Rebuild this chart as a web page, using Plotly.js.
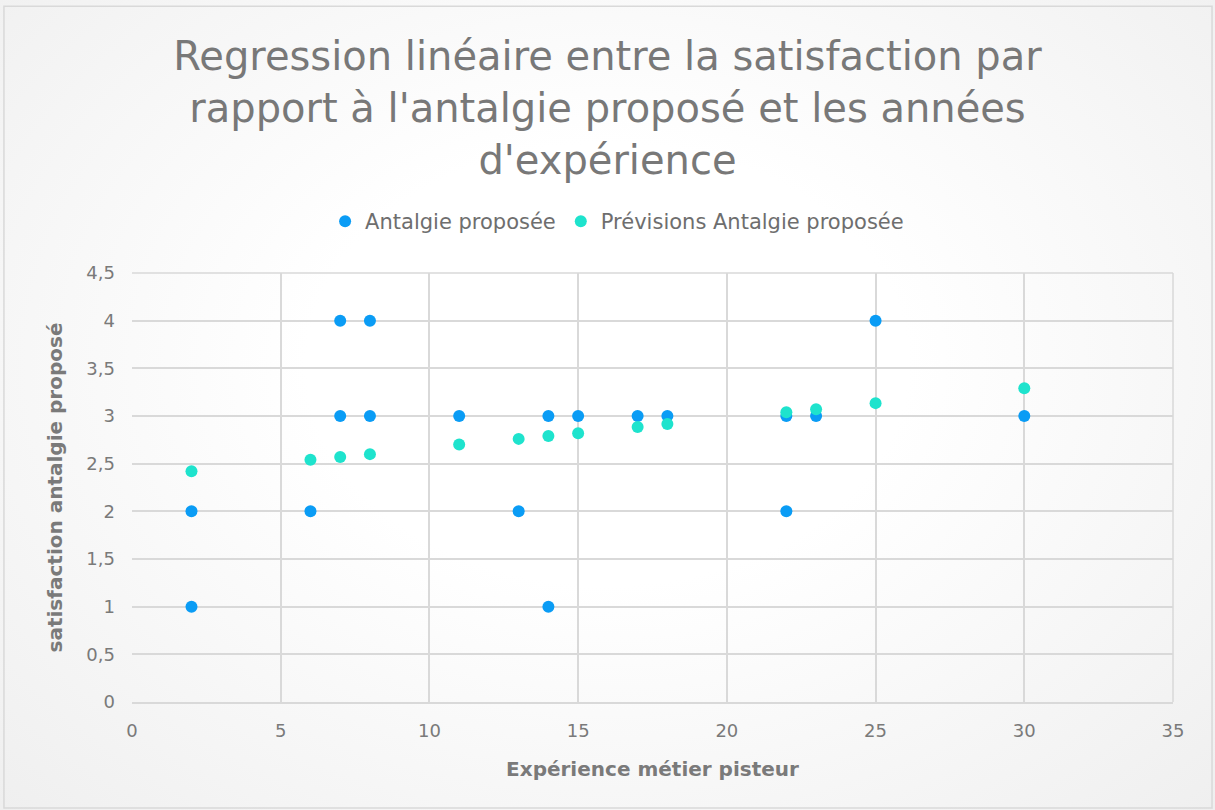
<!DOCTYPE html>
<html><head><meta charset="utf-8">
<script src="https://cdn.plot.ly/plotly-3.0.1.min.js"></script>
<style>html,body{margin:0;padding:0;background:#fff}
#chart{width:1215px;height:810px;background:radial-gradient(ellipse at 50% 45%, #ffffff 35%, #efefef 100%)}</style>
</head><body><div id="chart"></div>
<script>
var experienceX = [2, 2, 6, 7, 7, 8, 8, 11, 13, 14, 14, 15, 17, 18, 22, 22, 23, 25, 30];
var antalgieY   = [2, 1, 2, 4, 3, 4, 3, 3,  2,  3,  1,  3,  3,  3,  3,  2,  3,  4,  3];
var previsionX  = [2, 6, 7, 8, 11, 13, 14, 15, 17, 18, 22, 23, 25, 30];
var previsionY  = [2.42, 2.54, 2.57, 2.60, 2.70, 2.76, 2.79, 2.82, 2.885, 2.915, 3.04, 3.07, 3.135, 3.29];

var grey = '#7a7a7a';
var traces = [
  {x: experienceX, y: antalgieY, type: 'scatter', mode: 'markers', name: 'Antalgie proposée',
   marker: {color: '#0a9cf5', size: 12}},
  {x: previsionX, y: previsionY, type: 'scatter', mode: 'markers', name: 'Prévisions Antalgie proposée',
   marker: {color: '#1ee3cd', size: 12}}
];
var layout = {
  width: 1215, height: 810,
  separators: ',.',
  font: {family: '"DejaVu Sans", "Liberation Sans", sans-serif', color: grey, size: 18},
  paper_bgcolor: 'rgba(0,0,0,0)', plot_bgcolor: 'rgba(0,0,0,0)',
  margin: {l: 132, r: 42, t: 273, b: 108},
  title: {text: "Regression linéaire entre la satisfaction par<br>rapport à l'antalgie proposé et les années<br>d'expérience",
          x: 0.5, xanchor: 'center', yref: 'container', y: 0.913, yanchor: 'top',
          font: {size: 40, color: '#787878'}},
  showlegend: true,
  legend: {orientation: 'h', x: 0.466, xanchor: 'center', y: 1.12, yanchor: 'middle',
           font: {size: 21, color: '#6e6e6e'}, itemwidth: 30, bgcolor: 'rgba(0,0,0,0)'},
  xaxis: {range: [0, 35], dtick: 5, tick0: 0, showgrid: true, gridcolor: '#d9d9d9', gridwidth: 1.5,
          zeroline: false, showline: true, linecolor: '#d9d9d9', linewidth: 1.5, ticks: '',
          ticklabelstandoff: 12,
          tickfont: {size: 18, color: grey},
          title: {text: '<b>Expérience métier pisteur</b>', font: {size: 20, color: grey}, standoff: 22}},
  yaxis: {range: [0, 4.5], dtick: 0.5, tick0: 0, showgrid: true, gridcolor: '#d9d9d9', gridwidth: 1.5,
          zeroline: false, showline: false, ticks: '', ticklabelstandoff: 16,
          tickfont: {size: 18, color: grey},
          title: {text: '<b>satisfaction antalgie proposé</b>', font: {size: 20, color: grey}, standoff: 18}},
  shapes: [
    {type: 'line', xref: 'paper', yref: 'paper', x0: 1, x1: 1, y0: 0, y1: 1, line: {color: '#d9d9d9', width: 1.5}},
    {type: 'line', xref: 'paper', yref: 'paper', x0: 0, x1: 1, y0: 1, y1: 1, line: {color: '#d9d9d9', width: 1.5}},
    {type: 'rect', xref: 'paper', yref: 'paper', x0: -0.123, x1: 1.0375, y0: -0.247, y1: 1.622, line: {color: '#d9d9d9', width: 1.5}, layer: 'below'}
  ]
};
Plotly.newPlot('chart', traces, layout, {displayModeBar: false});
</script></body></html>
